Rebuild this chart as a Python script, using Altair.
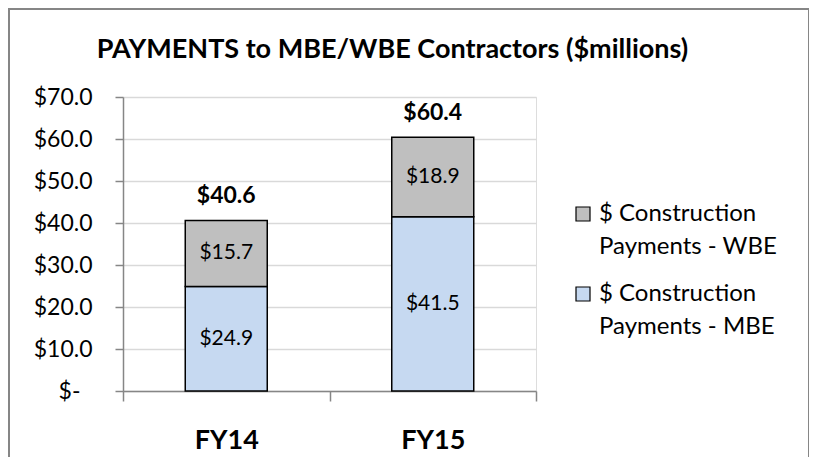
import altair as alt
import pandas as pd

years = ["FY14", "FY15"]
mbe = [24.9, 41.5]
wbe = [15.7, 18.9]
totals = [40.6, 60.4]
series_names = ["$ Construction Payments - WBE", "$ Construction Payments - MBE"]
colors = ["#BFBFBF", "#C6D9F1"]
y_ticks = [0, 10, 20, 30, 40, 50, 60, 70]

rows = []
for i, yr in enumerate(years):
    rows.append({"year": yr, "series": series_names[1], "value": mbe[i], "order": 0})
    rows.append({"year": yr, "series": series_names[0], "value": wbe[i], "order": 1})
df = pd.DataFrame(rows)
tot = pd.DataFrame({"year": years, "total": totals})

W, H = 413, 294
FONT = "Lato"
AXIS_GREY = "#868686"

x_enc = alt.X(
    "year:N",
    sort=years,
    scale=alt.Scale(domain=years, paddingInner=0, paddingOuter=0),
    axis=alt.Axis(
        title=None, tickBand="extent", labelAngle=0, labelFont=FONT,
        labelFontSize=27, labelFontWeight="bold", labelColor="black",
        labelBaseline="alphabetic", labelPadding=47, tickSize=10,
        tickColor=AXIS_GREY, tickWidth=1.5, domainColor=AXIS_GREY,
        domainWidth=1.5, grid=False,
    ),
)

y_scale = alt.Scale(domain=[0, 70], nice=False)

bars = alt.Chart(df).mark_bar(size=82, stroke="black", strokeWidth=1.5).encode(
    x=x_enc,
    y=alt.Y(
        "value:Q", stack="zero", scale=y_scale,
        axis=alt.Axis(
            title=None, values=y_ticks,
            labelExpr="datum.value == 0 ? '$-' : '$' + format(datum.value, '.1f')",
            labelFont=FONT, labelFontSize=23, labelColor="black",
            labelPadding={"condition": {"test": "datum.value == 0", "value": 35}, "value": 23},
            tickSize=8, tickColor=AXIS_GREY, tickWidth=1.5, domainColor=AXIS_GREY,
            domainWidth=1.5, gridColor="#D9D9D9", gridWidth=1.5,
        ),
    ),
    color=alt.Color(
        "series:N",
        scale=alt.Scale(domain=series_names, range=colors),
        legend=alt.Legend(
            title=None, orient="none", legendX=448, legendY=105,
            symbolType="square", symbolSize=196, symbolStrokeColor="black",
            symbolStrokeWidth=1.2, labelFont=FONT, labelFontSize=24,
            labelColor="black", labelLimit=400, rowPadding=23, labelOffset=4,
            labelExpr="[slice(datum.label, 0, 14), slice(datum.label, 15)]",
        ),
    ),
    order=alt.Order("order:Q"),
)

inner = alt.Chart(df).transform_stack(
    stack="value", groupby=["year"], as_=["v0", "v1"],
    sort=[alt.SortField("order", "ascending")],
).transform_calculate(
    mid="(datum.v0 + datum.v1) / 2",
    lbl="'$' + format(datum.value, '.1f')",
).mark_text(font=FONT, fontSize=21, color="black").encode(
    x=alt.X("year:N", sort=years),
    y=alt.Y("mid:Q"),
    text="lbl:N",
)

top = alt.Chart(tot).transform_calculate(
    lbl="'$' + format(datum.total, '.1f')",
).mark_text(
    font=FONT, fontSize=23, fontWeight="bold", color="black",
    baseline="alphabetic", dy=-17,
).encode(
    x=alt.X("year:N", sort=years),
    y=alt.Y("total:Q"),
    text="lbl:N",
)

border = alt.Chart(pd.DataFrame({"a": [0]})).mark_rect(
    filled=False, stroke=AXIS_GREY, strokeWidth=2,
).encode(
    x=alt.value(-114), x2=alt.value(686), y=alt.value(-88), y2=alt.value(500),
)

chart = alt.layer(border, bars, inner, top).properties(
    width=W, height=H,
    autosize=alt.AutoSizeParams(type="none"),
    padding={"left": 115, "top": 89, "right": 273, "bottom": 66},
    title=alt.Title(
        "PAYMENTS to MBE/WBE Contractors ($millions)",
        font=FONT, fontSize=27, fontWeight="bold", color="black",
        anchor="middle", dx=63, offset=-77, baseline="alphabetic",
    ),
    background="white",
).configure_view(stroke=None).configure(
    style={"guide-label": {"lineHeight": 33}}
)

chart.save("out.html", embed_options={"renderer": "svg", "actions": False})
